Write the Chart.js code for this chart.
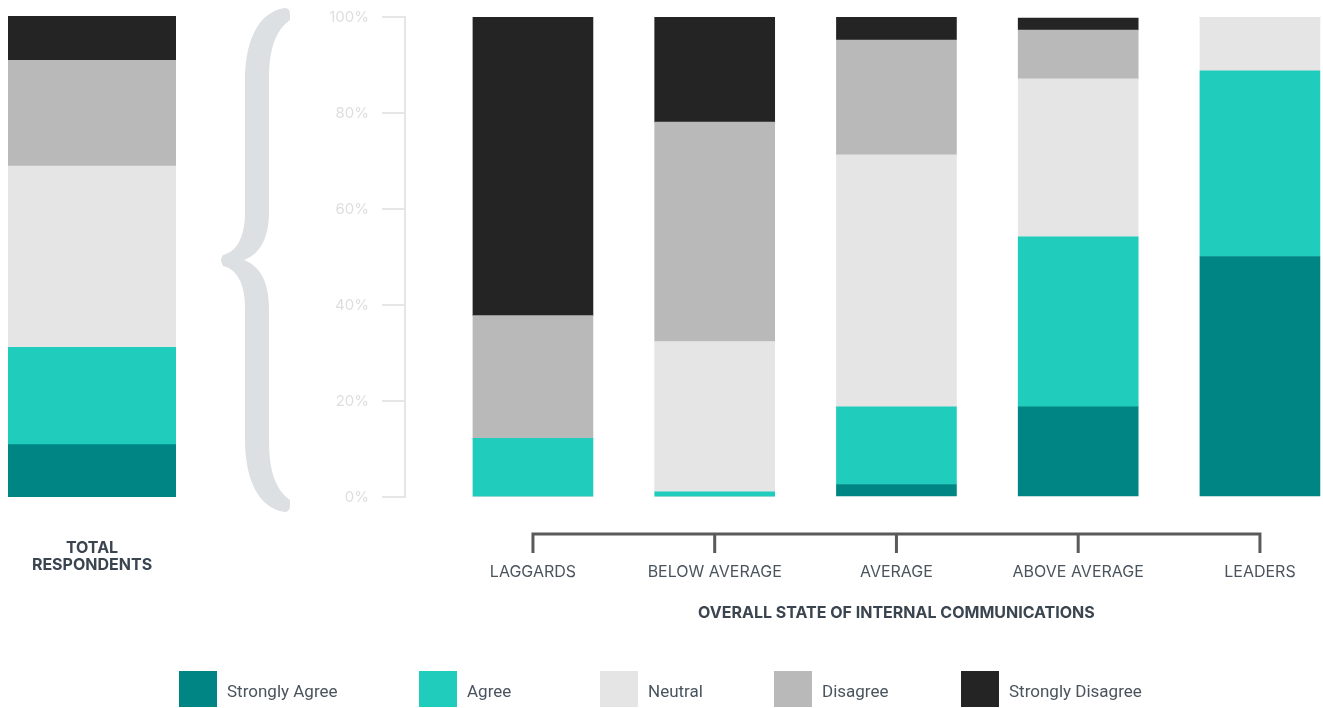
<!DOCTYPE html>
<html>
<head>
<meta charset="utf-8">
<script src="https://cdn.jsdelivr.net/npm/chart.js@4.4.1/dist/chart.umd.min.js"></script>
<style>
  html, body { margin: 0; padding: 0; background: #fff; overflow: hidden; }
  body { width: 1323px; height: 708px; position: relative; font-family: Roboto, sans-serif; }
  #totalWrap { position: absolute; left: 0; top: 0; width: 190px; height: 708px; }
  #mainWrap { position: absolute; left: 190px; top: 0; width: 1133px; height: 708px; }
  .legend { position: absolute; top: 671px; left: 0; width: 1323px; height: 36px; }
  .legend .item { position: absolute; top: 0; height: 36px; display: flex; align-items: center; }
  .legend .box { width: 38px; height: 36px; margin-right: 10px; }
  .legend .txt { font-size: 17px; color: #4a545e; padding-top: 3px; }
  .legend .item:nth-child(1) { left: 179px; }
  .legend .item:nth-child(2) { left: 419px; }
  .legend .item:nth-child(3) { left: 600px; }
  .legend .item:nth-child(4) { left: 774px; }
  .legend .item:nth-child(5) { left: 961px; }
</style>
</head>
<body>
<div id="totalWrap"><canvas id="totalChart"></canvas></div>
<div id="mainWrap"><canvas id="mainChart"></canvas></div>
<div class="legend" id="legend"></div>
<script>
const seriesNames = ['Strongly Agree', 'Agree', 'Neutral', 'Disagree', 'Strongly Disagree'];
const seriesColors = ['#008585', '#20cdbd', '#e5e5e5', '#b9b9b9', '#242424'];

// total respondents, same order as seriesNames
const totalLabel = ['TOTAL', 'RESPONDENTS'];
const totalValues = [10.9, 20.2, 37.7, 22.0, 9.2];

const categories = ['LAGGARDS', 'BELOW AVERAGE', 'AVERAGE', 'ABOVE AVERAGE', 'LEADERS'];
const strongAgree    = [0,    0,    2.6,  18.8, 50.1];
const agree          = [12.2, 1.1,  16.2, 35.4, 38.7];
const neutral        = [0,    31.3, 52.5, 32.9, 11.2];
const disagree       = [25.6, 45.7, 23.9, 10.2, 0];
const strongDisagree = [62.2, 21.9, 4.8,  2.5,  0];

const yTicks = [0, 20, 40, 60, 80, 100];
const axisTitle = 'OVERALL STATE OF INTERNAL COMMUNICATIONS';

// legend
const legendDiv = document.getElementById('legend');
seriesNames.forEach((name, i) => {
  legendDiv.innerHTML += `<div class="item"><div class="box" style="background:${seriesColors[i]}"></div><span class="txt">${name}</span></div>`;
});

// 1. Total respondents bar
const totalLabelPlugin = {
  id: 'totalLabel',
  afterDraw(chart) {
    const ctx = chart.ctx;
    const cx = chart.scales.x.getPixelForValue(0);
    ctx.save();
    ctx.fillStyle = '#3a4550';
    ctx.font = 'bold 16px Inter';
    ctx.textAlign = 'center';
    ctx.textBaseline = 'middle';
    totalLabel.forEach((line, i) => ctx.fillText(line, cx, 548 + i * 17));
    ctx.restore();
  }
};

new Chart(document.getElementById('totalChart'), {
  type: 'bar',
  data: {
    labels: [totalLabel.join(' ')],
    datasets: seriesNames.map((name, i) => ({
      label: name,
      data: [totalValues[i]],
      backgroundColor: seriesColors[i],
      borderWidth: 0,
      barPercentage: 1,
      categoryPercentage: 1
    }))
  },
  options: {
    responsive: true,
    maintainAspectRatio: false,
    animation: false,
    layout: { padding: { left: 8, right: 14, top: 16, bottom: 0 } },
    scales: {
      x: {
        stacked: true,
        grid: { display: false },
        border: { display: false },
        ticks: { display: false },
        afterFit: (scale) => { scale.height = 211; }
      },
      y: { stacked: true, display: false, min: 0, max: 100 }
    },
    plugins: { legend: { display: false } }
  },
  plugins: [totalLabelPlugin]
});

// 2. Main chart
const mainDatasets = [strongAgree, agree, neutral, disagree, strongDisagree].map((values, i) => ({
  label: seriesNames[i],
  data: values.map((v, idx) => ({ x: idx, y: v })),
  backgroundColor: seriesColors[i],
  borderWidth: 0,
  barThickness: 120
}));

const decorations = {
  id: 'decorations',
  afterDraw(chart) {
    const ctx = chart.ctx;
    const x = chart.scales.x;
    const off = 190; // canvas left on page

    // bracket under the bars
    const x0 = x.getPixelForValue(0);
    const x4 = x.getPixelForValue(categories.length - 1);
    ctx.save();
    ctx.strokeStyle = '#5a5a5a';
    ctx.lineWidth = 3;
    ctx.beginPath();
    ctx.moveTo(x0, 553);
    ctx.lineTo(x0, 534);
    ctx.lineTo(x4, 534);
    ctx.lineTo(x4, 553);
    categories.forEach((c, i) => {
      const px = x.getPixelForValue(i);
      ctx.moveTo(px, 534);
      ctx.lineTo(px, 553);
    });
    ctx.stroke();

    // category labels
    ctx.fillStyle = '#4a545e';
    ctx.font = '16px Inter';
    ctx.textAlign = 'center';
    ctx.textBaseline = 'middle';
    categories.forEach((c, i) => ctx.fillText(c, x.getPixelForValue(i), 572));

    // axis title
    ctx.fillStyle = '#3a4550';
    ctx.font = 'bold 16px Inter';
    ctx.fillText(axisTitle, (x0 + x4) / 2, 613);

    // curly brace
    ctx.translate(-off, 0);
    ctx.fillStyle = '#dde0e3';
    ctx.beginPath();
    ctx.moveTo(285, 8);
    ctx.bezierCurveTo(256, 12, 245, 45, 245, 80);
    ctx.lineTo(245, 212);
    ctx.bezierCurveTo(245, 238, 236, 252, 223, 255);
    ctx.quadraticCurveTo(219, 260, 223, 266);
    ctx.bezierCurveTo(236, 269, 245, 282, 245, 308);
    ctx.lineTo(245, 440);
    ctx.bezierCurveTo(245, 475, 256, 508, 285, 512);
    ctx.quadraticCurveTo(290, 512, 290, 505);
    ctx.lineTo(290, 500);
    ctx.bezierCurveTo(276, 490, 269, 472, 269, 440);
    ctx.lineTo(269, 308);
    ctx.bezierCurveTo(269, 282, 260, 266, 244, 260);
    ctx.bezierCurveTo(260, 254, 269, 238, 269, 212);
    ctx.lineTo(269, 80);
    ctx.bezierCurveTo(269, 48, 276, 30, 290, 20);
    ctx.lineTo(290, 15);
    ctx.quadraticCurveTo(290, 8, 285, 8);
    ctx.closePath();
    ctx.fill();
    ctx.restore();
  }
};

new Chart(document.getElementById('mainChart'), {
  type: 'bar',
  data: { datasets: mainDatasets },
  options: {
    responsive: true,
    maintainAspectRatio: false,
    animation: false,
    layout: { padding: { left: 0, right: 0, top: 17, bottom: 0 } },
    scales: {
      x: {
        type: 'linear',
        stacked: true,
        offset: false,
        min: -0.704,
        max: 4.347,
        grid: { display: false },
        border: { display: false },
        ticks: { display: false },
        afterFit: (scale) => { scale.height = 211; }
      },
      y: {
        stacked: true,
        min: 0,
        max: 100,
        afterBuildTicks: (scale) => {
          scale.ticks = yTicks.map(v => ({ value: v }));
        },
        grid: { drawOnChartArea: false, drawTicks: true, tickLength: 23, color: '#e6e6e6', lineWidth: 2 },
        border: { display: true, color: '#e6e6e6', width: 2 },
        ticks: {
          padding: 13,
          color: '#dedede',
          font: { family: 'Inter', size: 15 },
          callback: (v) => v + '%'
        },
        afterFit: (scale) => {
          scale.width = 215;
          scale.paddingTop = 0;
          scale.paddingBottom = 0;
        }
      }
    },
    plugins: { legend: { display: false } }
  },
  plugins: [decorations]
});
</script>
</body>
</html>
